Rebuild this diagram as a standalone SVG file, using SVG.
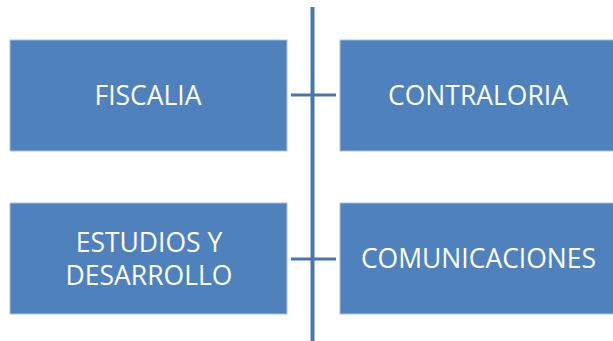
<svg xmlns="http://www.w3.org/2000/svg" width="613" height="341" viewBox="0 0 613 341">
<style>
.box{fill:#4F81BD;stroke:#A9C0DF;stroke-width:1}
.lbl{font-family:"Open Sans","Liberation Sans",sans-serif;font-size:26.5px;fill:#FFFFFF;text-anchor:middle}
.conn{stroke:#4A76AE;stroke-width:4;fill:none}
.connh{stroke:#4A76AE;stroke-width:3;fill:none}
</style>
<rect width="613" height="341" fill="#FFFFFF"/>
<g id="connectors">
<line class="conn" x1="312.5" y1="7" x2="312.5" y2="341"/>
<line class="connh" x1="291" y1="95" x2="336" y2="95"/>
<line class="connh" x1="291" y1="259" x2="336" y2="259"/>
</g>
<g id="fiscalia">
<rect class="box" x="10" y="40" width="277" height="111"/>
<text class="lbl" x="148" y="104.5">FISCALIA</text>
</g>
<g id="contraloria">
<rect class="box" x="340" y="40" width="274" height="111"/>
<text class="lbl" x="478" y="104.5">CONTRALORIA</text>
</g>
<g id="estudios">
<rect class="box" x="10" y="203" width="277" height="111"/>
<text class="lbl" x="149" y="252">ESTUDIOS Y</text>
<text class="lbl" x="149" y="284.5">DESARROLLO</text>
</g>
<g id="comunicaciones">
<rect class="box" x="340" y="203" width="274" height="111"/>
<text class="lbl" x="478.5" y="267.5">COMUNICACIONES</text>
</g>
</svg>
